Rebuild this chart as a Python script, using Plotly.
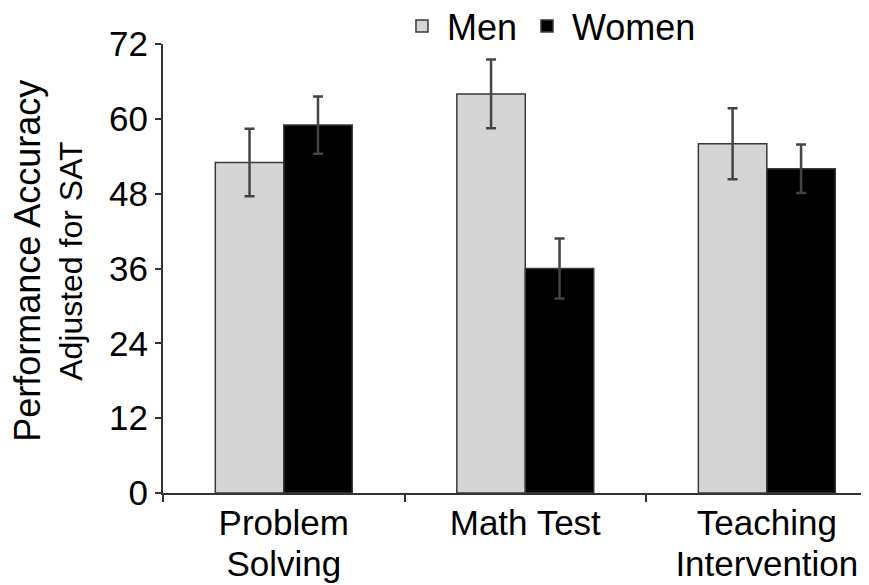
import plotly.graph_objects as go

categories = ["Problem Solving", "Math Test", "Teaching Intervention"]
tick_lines = [["Problem", "Solving"], ["Math Test"], ["Teaching", "Intervention"]]
men_values = [53, 64, 56]
women_values = [59, 36, 52]
men_errors = [5.4, 5.5, 5.7]
women_errors = [4.6, 4.8, 3.9]
y_ticks = [0, 12, 24, 36, 48, 60, 72]

FONT = "Arial, 'Liberation Sans', sans-serif"
ERR_COLOR = "#444444"

# Tick labels: glyphs at 35px, line spacing governed by a smaller base tick font.
tick_text = ["<br>".join("<span style='font-size:35px'>%s</span>" % s for s in lines)
             for lines in tick_lines]

fig = go.Figure()
fig.add_trace(go.Bar(
    name="Men", x=categories, y=men_values,
    marker=dict(color="#d4d4d4", line=dict(color="#3a3a3a", width=1.5)),
    error_y=dict(type="data", array=men_errors, visible=True,
                 color=ERR_COLOR, thickness=2.5, width=5),
))
fig.add_trace(go.Bar(
    name="Women", x=categories, y=women_values,
    marker=dict(color="#000000", line=dict(color="#3a3a3a", width=1.5)),
    error_y=dict(type="data", array=women_errors, visible=True,
                 color=ERR_COLOR, thickness=2.5, width=5),
))

# The page body adds an 8px offset, so the figure is sized/margined to compensate.
fig.update_layout(
    width=861, height=577,
    margin=dict(l=155, r=0, t=36, b=92, autoexpand=False),
    paper_bgcolor="white", plot_bgcolor="white",
    barmode="group", bargap=0.433, bargroupgap=0,
    font=dict(family=FONT, color="#000000"),
    showlegend=True,
    legend=dict(orientation="h", x=0.3314, xanchor="left", y=1.040, yanchor="middle",
                font=dict(size=36, family=FONT), itemwidth=40,
                bgcolor="rgba(0,0,0,0)", traceorder="normal"),
    xaxis=dict(range=[-0.5, 2.423], showline=True, linecolor="#333333", linewidth=2,
               ticks="outside", tickson="boundaries", ticklen=7, tickwidth=1.5,
               tickcolor="#333333", tickfont=dict(size=31.5, family=FONT),
               tickmode="array", tickvals=categories, ticktext=tick_text,
               ticklabelstandoff=2,
               showgrid=False, zeroline=False),
    yaxis=dict(range=[0, 72], tickvals=y_ticks, showline=True, linecolor="#333333",
               linewidth=2, ticks="outside", ticklen=6, tickwidth=1.5,
               tickcolor="#333333", tickfont=dict(size=35, family=FONT),
               showgrid=False, zeroline=False),
    annotations=[
        dict(text="Performance Accuracy", xref="paper", yref="paper", x=0, y=0.517,
             xshift=-135, textangle=-90, showarrow=False, xanchor="center", yanchor="middle",
             font=dict(size=36, family=FONT)),
        dict(text="Adjusted for SAT", xref="paper", yref="paper", x=0, y=0.517,
             xshift=-92, textangle=-90, showarrow=False, xanchor="center", yanchor="middle",
             font=dict(size=32, family=FONT)),
    ],
)

fig.write_html("out.html")
